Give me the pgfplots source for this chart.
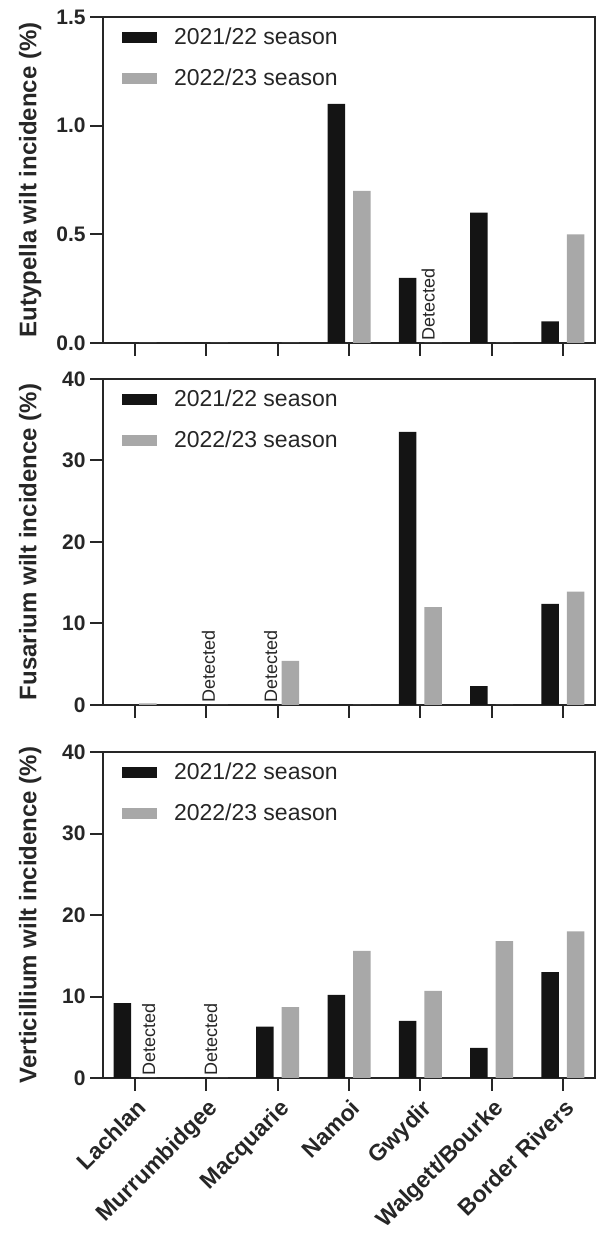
\documentclass[border=0pt]{standalone}
\usepackage{pgfplots}
\pgfplotsset{compat=1.18}
\usepackage{fontspec}
\setmainfont{Liberation Sans}
\definecolor{barblack}{HTML}{141414}
\definecolor{bargray}{HTML}{A8A8A8}
\definecolor{txt}{HTML}{262626}

\pgfplotsset{
 panel/.style={
  scale only axis, width=246pt, height=163pt,
  xmin=-0.45, xmax=6.45, ymin=0,
  ybar=4pt, bar width=8.75pt,
  xtick={0,...,6},
  axis line style={line width=1pt, draw=txt},
  every tick/.style={line width=1pt, draw=txt},
  xtick pos=bottom, ytick pos=left,
  tick align=outside,
  major tick length=6.5pt,
  xticklabels={},
  /pgf/number format/assume math mode=true,
  ticklabel style={font=\fontsize{10.5}{12}\selectfont\bfseries, text=txt, inner sep=2pt},
  y label style={at={(axis description cs:-0.148,0.5)}, anchor=center, font=\fontsize{12}{14}\selectfont\bfseries, text=txt},
  legend style={at={(axis description cs:0,1)}, anchor=north west, xshift=9.5pt, yshift=-5.5pt,
     draw=none, fill=none, inner sep=0pt, outer sep=0pt, row sep=10.5pt, column sep=8.5pt,
     font=\fontsize{11.5}{13}\selectfont, text=txt,
     nodes={inner sep=0pt}},
  legend cell align=left,
  enlarge y limits=false, clip=false,
 },
 blk/.style={fill=barblack, draw=none, legend image code/.code={\fill[barblack] (0pt,-2.75pt) rectangle (17.5pt,2.75pt);}},
 gry/.style={fill=bargray, draw=none, legend image code/.code={\fill[bargray] (0pt,-2.75pt) rectangle (17.5pt,2.75pt);}},
}
\tikzset{det/.style={rotate=90, anchor=west, font=\fontsize{9}{10}\selectfont, text=txt, inner sep=1pt}}

\begin{document}
\begin{tikzpicture}
\useasboundingbox (0,0) rectangle (299.5pt,618pt);

% Panel 1: Eutypella
\begin{axis}[panel, at={(51.5pt,446.5pt)}, anchor=south west,
  ymax=1.5, ytick={0,0.5,1.0,1.5},
  yticklabel style={/pgf/number format/fixed, /pgf/number format/fixed zerofill, /pgf/number format/precision=1},
  ylabel={Eutypella wilt incidence (\%)}]
\addplot[blk] coordinates {(0,0) (1,0) (2,0) (3,1.1) (4,0.3) (5,0.6) (6,0.1)};
\addplot[gry] coordinates {(0,0) (1,0) (2,0) (3,0.7) (4,0) (5,0) (6,0.5)};
\legend{2021/22 season, 2022/23 season}
\node[det] at (axis cs:4.11,0) {Detected};
\end{axis}

% Panel 2: Fusarium
\begin{axis}[panel, at={(51.5pt,265.5pt)}, anchor=south west,
  ymax=40, ytick={0,10,20,30,40},
  ylabel={Fusarium wilt incidence (\%)}]
\addplot[blk] coordinates {(0,0) (1,0) (2,0) (3,0) (4,33.5) (5,2.3) (6,12.4)};
\addplot[gry] coordinates {(0,0.2) (1,0) (2,5.4) (3,0) (4,12.0) (5,0) (6,13.9)};
\legend{2021/22 season, 2022/23 season}
\node[det] at (axis cs:1.03,0) {Detected};
\node[det] at (axis cs:1.9,0) {Detected};
\end{axis}

% Panel 3: Verticillium
\begin{axis}[panel, at={(51.5pt,79pt)}, anchor=south west,
  ymax=40, ytick={0,10,20,30,40},
  xticklabels={Lachlan, Murrumbidgee, Macquarie, Namoi, Gwydir, Walgett/Bourke, Border Rivers},
  xticklabel style={rotate=45, anchor=north east, yshift=-0.5pt, font=\fontsize{11.5}{13}\selectfont\bfseries, text=txt},
  ylabel={Verticillium wilt incidence (\%)}]
\addplot[blk] coordinates {(0,9.2) (1,0) (2,6.3) (3,10.2) (4,7.0) (5,3.7) (6,13.0)};
\addplot[gry] coordinates {(0,0) (1,0) (2,8.7) (3,15.6) (4,10.7) (5,16.8) (6,18.0)};
\legend{2021/22 season, 2022/23 season}
\node[det] at (axis cs:0.19,0) {Detected};
\node[det] at (axis cs:1.06,0) {Detected};
\end{axis}
\end{tikzpicture}
\end{document}
